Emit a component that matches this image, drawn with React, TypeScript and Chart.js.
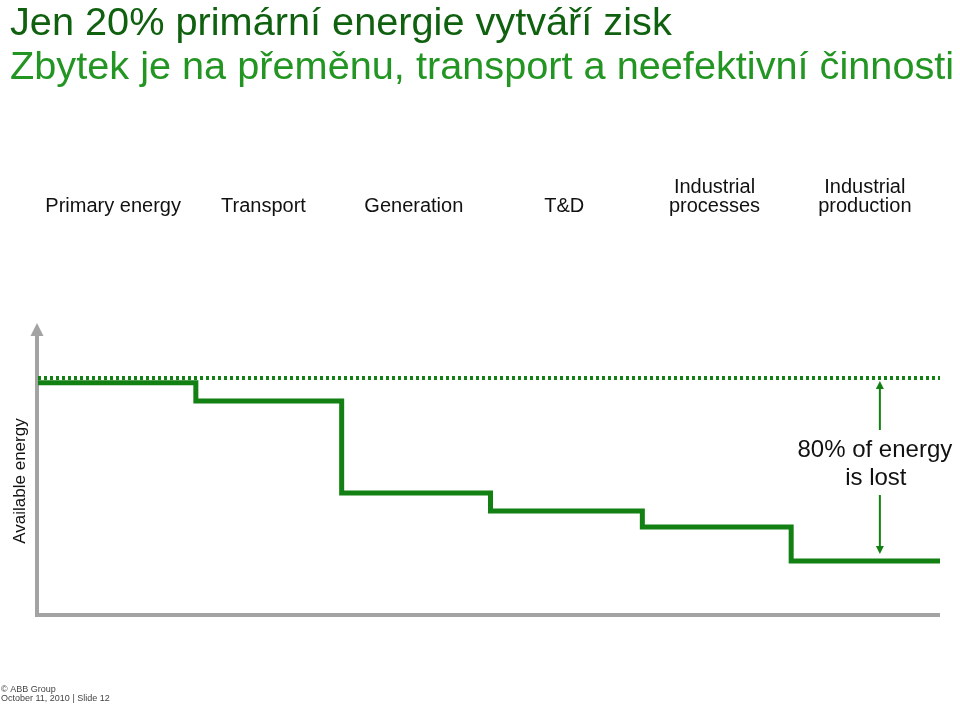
import React, { useEffect, useRef } from "react";
import { Chart, registerables } from "chart.js";

Chart.register(...registerables);

const titleLines = [
  "Jen 20% primární energie vytváří zisk",
  "Zbytek je na přeměnu, transport a neefektivní činnosti",
];
const categories: string[][] = [
  ["Primary energy"],
  ["Transport"],
  ["Generation"],
  ["T&D"],
  ["Industrial", "processes"],
  ["Industrial", "production"],
];
// stage boundaries along the process axis (stage i spans stageBounds[i]..stageBounds[i+1])
const stageBounds = [0, 1.05, 2.02, 3.01, 4.02, 5.01, 6];
const availableEnergy = [98, 90.3, 51.3, 43.6, 36.9, 22.5];
const referenceLevel = 100;
const yAxisLabel = "Available energy";
const annotationLines = ["80% of energy", "is lost"];
const annotationX = 5.6;
const footerLines = ["© ABB Group", "October 11, 2010 | Slide 12"];

const FONT = '"Liberation Sans", Arial, Helvetica, sans-serif';
const GREEN = "#138013";
const AXIS_GRAY = "#a3a3a3";

export default function App() {
  const ref = useRef<HTMLCanvasElement | null>(null);

  useEffect(() => {
    document.body.style.margin = "0";
    const canvas = ref.current;
    if (!canvas) return;

    const stepData = availableEnergy.map((v, i) => ({ x: stageBounds[i], y: v }));
    stepData.push({
      x: stageBounds[stageBounds.length - 1],
      y: availableEnergy[availableEnergy.length - 1],
    });

    const decor = {
      id: "decor",
      beforeDatasetsDraw(chart: any) {
        const { ctx, chartArea } = chart;
        ctx.save();
        ctx.strokeStyle = AXIS_GRAY;
        ctx.fillStyle = AXIS_GRAY;
        ctx.lineWidth = 4;
        const ax = chartArea.left - 1;
        const ay = chartArea.bottom + 1;
        ctx.beginPath();
        ctx.moveTo(ax, chartArea.top + 10);
        ctx.lineTo(ax, ay);
        ctx.lineTo(chartArea.right, ay);
        ctx.stroke();
        ctx.beginPath();
        ctx.moveTo(ax, chartArea.top);
        ctx.lineTo(ax - 6.5, chartArea.top + 13);
        ctx.lineTo(ax + 6.5, chartArea.top + 13);
        ctx.closePath();
        ctx.fill();
        ctx.restore();
      },
      afterDraw(chart: any) {
        const { ctx } = chart;
        const xs = chart.scales.x;
        const ys = chart.scales.y;
        ctx.save();
        // title
        ctx.textAlign = "left";
        ctx.textBaseline = "alphabetic";
        ctx.font = `39.7px ${FONT}`;
        ctx.fillStyle = "#0f600f";
        ctx.fillText(titleLines[0], 10, 35);
        ctx.fillStyle = "#239523";
        ctx.fillText(titleLines[1], 10, 79);

        // category labels
        ctx.fillStyle = "#111";
        ctx.font = `20px ${FONT}`;
        ctx.textAlign = "center";
        ctx.textBaseline = "middle";
        categories.forEach((lines, i) => {
          const cx = xs.getPixelForValue(i + 0.5);
          lines.forEach((t, j) => {
            const y = 206 - (lines.length - 1 - j) * 19;
            ctx.fillText(t, cx, y);
          });
        });

        // y axis label
        ctx.save();
        ctx.translate(20, 481);
        ctx.rotate(-Math.PI / 2);
        ctx.font = `17px ${FONT}`;
        ctx.fillText(yAxisLabel, 0, 0);
        ctx.restore();

        // annotation arrows
        const axp = xs.getPixelForValue(annotationX);
        const topTip = ys.getPixelForValue(referenceLevel) + 3;
        const botTip = ys.getPixelForValue(availableEnergy[availableEnergy.length - 1]) - 7;
        ctx.strokeStyle = GREEN;
        ctx.fillStyle = GREEN;
        ctx.lineWidth = 2;
        ctx.beginPath();
        ctx.moveTo(axp, topTip + 6);
        ctx.lineTo(axp, 430);
        ctx.moveTo(axp, 495);
        ctx.lineTo(axp, botTip - 6);
        ctx.stroke();
        ctx.beginPath();
        ctx.moveTo(axp, topTip);
        ctx.lineTo(axp - 4, topTip + 8);
        ctx.lineTo(axp + 4, topTip + 8);
        ctx.closePath();
        ctx.fill();
        ctx.beginPath();
        ctx.moveTo(axp, botTip);
        ctx.lineTo(axp - 4, botTip - 8);
        ctx.lineTo(axp + 4, botTip - 8);
        ctx.closePath();
        ctx.fill();

        // annotation text
        ctx.fillStyle = "#111";
        ctx.font = `24px ${FONT}`;
        ctx.textAlign = "center";
        ctx.textBaseline = "middle";
        ctx.fillText(annotationLines[0], axp - 5, 450);
        ctx.fillText(annotationLines[1], axp - 4, 478);

        // footer
        ctx.fillStyle = "#444";
        ctx.font = `9px ${FONT}`;
        ctx.textAlign = "left";
        ctx.fillText(footerLines[0], 1, 690);
        ctx.fillText(footerLines[1], 1, 699);
        ctx.restore();
      },
    };

    const chart = new Chart(canvas, {
      type: "line",
      data: {
        datasets: [
          {
            label: "Reference",
            data: [
              { x: stageBounds[0], y: referenceLevel },
              { x: stageBounds[stageBounds.length - 1], y: referenceLevel },
            ],
            borderColor: GREEN,
            borderWidth: 4,
            borderDash: [3, 3],
            pointRadius: 0,
            fill: false,
          },
          {
            label: "Available energy",
            data: stepData,
            borderColor: GREEN,
            borderWidth: 5,
            stepped: "before",
            pointRadius: 0,
            fill: false,
          },
        ],
      },
      options: {
        responsive: false,
        animation: false,
        devicePixelRatio: 1,
        layout: { padding: { left: 38, right: 20, top: 323, bottom: 90 } },
        plugins: { legend: { display: false }, tooltip: { enabled: false } },
        scales: {
          x: { type: "linear", min: 0, max: 6, display: false },
          y: { type: "linear", min: 0, max: 123.3, display: false },
        },
      },
      plugins: [decor],
    } as any);

    return () => chart.destroy();
  }, []);

  return (
    <div style={{ width: 960, height: 704 }}>
      <canvas ref={ref} width={960} height={704} style={{ display: "block" }} />
    </div>
  );
}
